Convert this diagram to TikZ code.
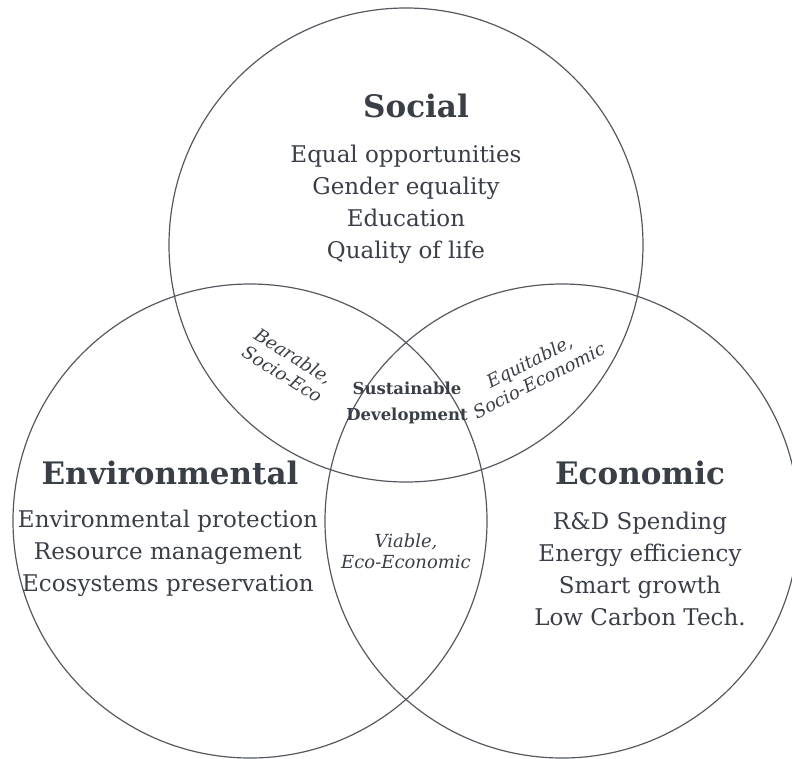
\documentclass[tikz,border=0pt]{standalone}
\usepackage{fontspec}
\setmainfont{DejaVu Serif}
\begin{document}
\definecolor{ink}{HTML}{3A3F47}
\definecolor{rim}{HTML}{55595F}
\begin{tikzpicture}[x=1pt,y=-1pt,
  ring/.style={draw=rim,line width=1.2pt,circle,minimum size=474pt,inner sep=0pt},
  head/.style={text=ink,font=\fontsize{31}{34}\selectfont\bfseries},
  items/.style={text=ink,align=center,font=\fontsize{23}{32}\selectfont},
  overlap/.style={text=ink,align=center,font=\fontsize{18}{21}\selectfont\itshape},
  core/.style={text=ink,align=center,font=\fontsize{16.5}{26}\selectfont\bfseries}]
\useasboundingbox (0,0) rectangle (792,758);
% the three circles
\node[ring] (soc) at (406,245) {};
\node[ring] (env) at (250,521) {};
\node[ring] (eco) at (562,521) {};
% social
\node[head] (socT) at (416,106) {Social};
\node[items] (socL) at (406,204) {Equal opportunities\\Gender equality\\Education\\Quality of life};
% environmental
\node[head] (envT) at (170,473) {Environmental};
\node[items] (envL) at (168,553) {Environmental protection\\Resource management\\Ecosystems preservation};
% economic
\node[head] (ecoT) at (640,473) {Economic};
\node[items] (ecoL) at (640,569) {R\&D Spending\\Energy efficiency\\Smart growth\\Low Carbon Tech.};
% pairwise overlaps
\node[overlap,rotate=-32] (bear) at (288,365) {Bearable,\\Socio-Eco};
\node[overlap,rotate=27] (equi) at (534,371) {Equitable,\\Socio-Economic};
\node[overlap] (viab) at (406,551) {Viable,\\Eco-Economic};
% centre
\node[core] (sus) at (407,403) {Sustainable\\Development};
\end{tikzpicture}
\end{document}
